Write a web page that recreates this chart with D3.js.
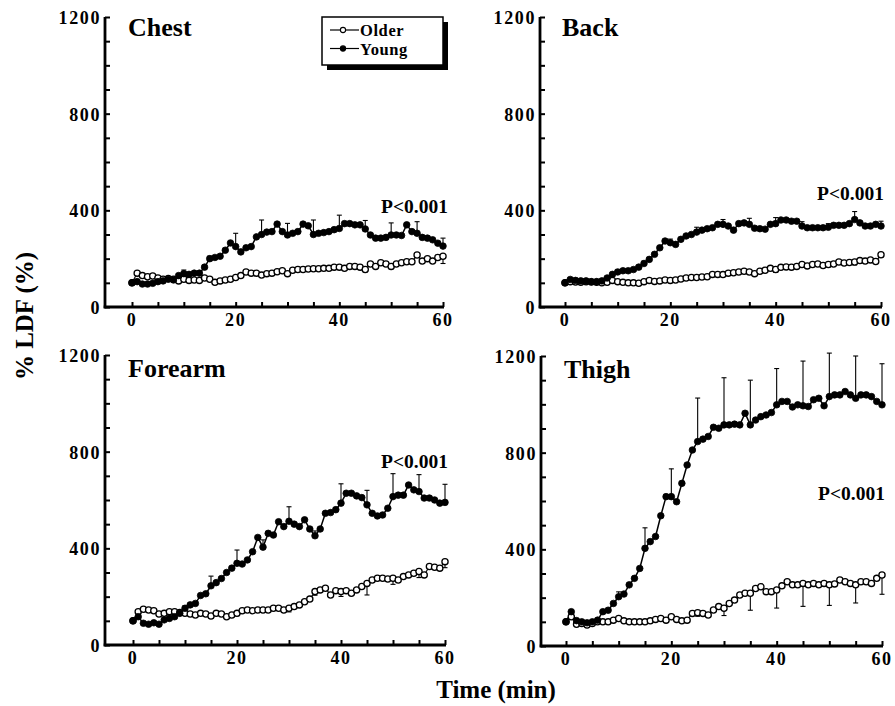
<!DOCTYPE html>
<html><head><meta charset="utf-8">
<script src="https://cdn.jsdelivr.net/npm/d3@7"></script>
<style>
html,body{margin:0;padding:0;background:#fff;}
svg{display:block;}
text{font-family:"Liberation Serif","Times New Roman",serif;font-weight:bold;fill:#000;}
</style></head>
<body>
<svg id="chart" width="895" height="706"></svg>
<script>
// ---------- data ----------
const timeMin = [0,1,2,3,4,5,6,7,8,9,10,11,12,13,14,15,16,17,18,19,20,21,22,23,24,25,26,27,28,29,30,
  31,32,33,34,35,36,37,38,39,40,41,42,43,44,45,46,47,48,49,50,51,52,53,54,55,56,57,58,59,60];
const errTime = [0,5,10,15,20,25,30,35,40,45,50,55,60];
const seriesNames = ["Older","Young"];
const panelNames = ["Chest","Back","Forearm","Thigh"];
const pLabel = "P<0.001";
const yTickValues = [0,400,800,1200];
const xTickValues = [0,20,40,60];

const chestYoung = [100,105,95,95,98,105,108,115,112,130,138,135,140,140,165,200,205,210,235,265,250,228,245,250,290,300,310,312,343,312,298,305,312,343,336,300,305,308,312,320,325,345,345,340,340,323,298,285,285,288,298,298,296,340,312,305,288,285,278,264,252];
const chestOlder = [100,140,130,125,128,120,115,118,115,108,115,110,112,110,120,115,102,108,112,115,122,130,145,140,140,132,138,140,146,150,138,152,155,155,157,158,158,160,160,165,165,160,168,168,165,155,178,168,183,178,168,178,183,187,187,215,190,200,190,205,210];
const chestYoungSE = [0,5,15,10,55,60,48,60,55,35,50,48,33];
const chestOlderSE = [0,5,8,8,8,8,8,8,8,10,10,10,30];

const backYoung = [100,114,110,108,108,105,105,108,120,135,145,150,150,155,165,180,197,218,245,273,266,259,280,294,300,310,318,324,328,342,342,335,318,345,348,342,326,324,322,342,345,360,360,355,355,335,328,328,328,328,330,338,338,338,345,362,348,335,335,342,335];
const backOlder = [100,105,103,102,104,103,102,100,102,110,105,102,100,100,98,105,110,106,108,112,110,112,116,120,122,122,124,125,135,135,134,140,142,145,148,145,138,148,152,160,155,164,166,165,168,176,170,176,178,172,176,178,186,182,184,186,192,190,195,188,216];
const backYoungSE = [0,5,8,10,15,20,20,25,25,18,15,33,20];
const backOlderSE = [0,5,5,5,5,5,8,10,12,12,10,12,10];

const forearmYoung = [100,117,90,86,92,86,104,110,117,131,152,166,172,205,212,245,258,275,300,318,338,335,352,386,445,405,462,455,510,490,512,500,490,518,480,452,480,545,548,560,587,628,628,617,610,580,545,534,538,566,614,620,620,662,642,635,608,608,600,587,590];
const forearmOlder = [100,138,148,145,142,128,131,138,138,134,131,128,124,131,128,120,131,128,117,124,131,142,145,142,145,145,145,152,152,145,152,159,166,179,190,221,228,235,207,225,221,225,214,228,242,255,269,276,276,273,276,269,283,290,297,304,290,325,322,318,345];
const forearmYoungSE = [0,5,10,40,55,30,60,20,80,60,95,70,75];
const forearmOlderSE = [0,5,5,10,10,10,15,15,20,48,25,25,25];

const thighYoung = [100,142,105,100,96,100,107,142,148,176,204,215,253,280,321,404,432,453,539,618,618,597,673,749,811,846,856,867,905,901,915,915,918,915,963,915,935,949,956,966,998,1012,1012,989,998,994,991,1019,1025,994,1032,1039,1039,1053,1039,1025,1039,1039,1032,1012,998];
const thighOlder = [100,121,90,93,87,93,100,100,100,107,114,104,100,100,100,100,104,110,114,107,121,110,104,107,135,138,135,128,149,163,156,176,190,211,218,218,238,245,225,225,232,249,266,253,253,259,253,259,253,259,253,257,273,266,259,253,266,266,259,280,294];
const thighYoungSE = [0,5,20,85,115,180,195,185,150,185,180,175,170];
const thighOlderSE = [0,5,5,5,5,15,30,70,75,95,85,75,80];

// ---------- layout ----------
const svg = d3.select("#chart");
const layout = [
  {young:chestYoung, older:chestOlder, ySE:chestYoungSE, oSE:chestOlderSE, axisX:105, x0:132, x1:443, yTop:17, yBot:307, titleX:128, titleY:36, pX:448, pY:213},
  {young:backYoung, older:backOlder, ySE:backYoungSE, oSE:backOlderSE, axisX:540, x0:565, x1:881, yTop:17, yBot:307, titleX:562, titleY:36, pX:884, pY:200},
  {young:forearmYoung, older:forearmOlder, ySE:forearmYoungSE, oSE:forearmOlderSE, axisX:105, x0:133, x1:445, yTop:355, yBot:645, titleX:128, titleY:377, pX:448, pY:468},
  {young:thighYoung, older:thighOlder, ySE:thighYoungSE, oSE:thighOlderSE, axisX:541, x0:566, x1:882, yTop:356, yBot:646, titleX:564, titleY:378, pX:885, pY:500}
];

layout.forEach((p, i) => {
  const x = d3.scaleLinear().domain([0,60]).range([p.x0, p.x1]);
  const y = d3.scaleLinear().domain([0,1200]).range([p.yBot, p.yTop]);
  const g = svg.append("g");

  // axes lines
  g.append("line").attr("x1", p.axisX).attr("x2", p.axisX).attr("y1", p.yTop).attr("y2", p.yBot+1.3)
    .attr("stroke","#000").attr("stroke-width",2.8);
  g.append("line").attr("x1", p.axisX-1.3).attr("x2", p.x1+1).attr("y1", p.yBot).attr("y2", p.yBot)
    .attr("stroke","#000").attr("stroke-width",2.8);

  // y ticks (inward) every 100
  const yAxis = d3.axisRight(y).tickValues(d3.range(0,1201,100)).tickSize(5).tickFormat("");
  const ya = g.append("g").attr("transform",`translate(${p.axisX},0)`).call(yAxis);
  ya.select(".domain").remove();
  ya.selectAll("line").attr("stroke","#000").attr("stroke-width",2);
  // y labels
  g.selectAll(".ylab").data(yTickValues).enter().append("text")
    .attr("x", p.axisX-4).attr("y", d => y(d)+7)
    .attr("text-anchor","end").attr("font-size",18).attr("letter-spacing",1.6)
    .text(d => d);

  // x ticks (inward) every 5
  const xAxis = d3.axisTop(x).tickValues(d3.range(0,61,5)).tickSize(5).tickFormat("");
  const xa = g.append("g").attr("transform",`translate(0,${p.yBot})`).call(xAxis);
  xa.select(".domain").remove();
  xa.selectAll("line").attr("stroke","#000").attr("stroke-width",2);
  g.selectAll(".xlab").data(xTickValues).enter().append("text")
    .attr("x", d => x(d)).attr("y", p.yBot+19)
    .attr("text-anchor","middle").attr("font-size",18).attr("letter-spacing",1.6)
    .text(d => d);

  // title and p label
  g.append("text").attr("x",p.titleX).attr("y",p.titleY).attr("font-size",26).text(panelNames[i]);
  g.append("text").attr("x",p.pX).attr("y",p.pY).attr("text-anchor","end").attr("font-size",19.5).text(pLabel);

  const line = d3.line().x((d,j) => x(timeMin[j])).y(d => y(d));

  // lines
  g.append("path").datum(p.older).attr("d",line).attr("fill","none").attr("stroke","#000").attr("stroke-width",1.1);
  g.append("path").datum(p.young).attr("d",line).attr("fill","none").attr("stroke","#000").attr("stroke-width",1.5);

  // error bars
  const errs = [];
  errTime.forEach((t,k) => {
    const idx = timeMin.indexOf(t);
    if (p.ySE[k] > 0) errs.push({t, from:p.young[idx], to:p.young[idx]+p.ySE[k]});
    if (p.oSE[k] > 0) errs.push({t, from:p.older[idx], to:p.older[idx]-p.oSE[k]});
  });
  const eg = g.append("g").attr("stroke","#000").attr("stroke-width",1.1);
  eg.selectAll(".ev").data(errs).enter().append("line")
    .attr("x1",d=>x(d.t)).attr("x2",d=>x(d.t)).attr("y1",d=>y(d.from)).attr("y2",d=>y(d.to));
  eg.selectAll(".ec").data(errs).enter().append("line")
    .attr("x1",d=>x(d.t)-2.5).attr("x2",d=>x(d.t)+2.5).attr("y1",d=>y(d.to)).attr("y2",d=>y(d.to));

  // markers
  g.selectAll(".mo").data(p.older).enter().append("circle")
    .attr("cx",(d,j)=>x(timeMin[j])).attr("cy",d=>y(d)).attr("r",3.1)
    .attr("fill","#fff").attr("stroke","#000").attr("stroke-width",1.3);
  g.selectAll(".my").data(p.young).enter().append("circle")
    .attr("cx",(d,j)=>x(timeMin[j])).attr("cy",d=>y(d)).attr("r",3.3)
    .attr("fill","#000").attr("stroke","#000").attr("stroke-width",0.8);
});

// axis titles
svg.append("text").attr("transform","translate(33,316) rotate(-90)").attr("text-anchor","middle")
  .attr("font-size",25).text("% LDF (%)");
svg.append("text").attr("x",496).attr("y",698).attr("text-anchor","middle").attr("font-size",25).text("Time (min)");

// legend
const lg = svg.append("g");
lg.append("rect").attr("x",327).attr("y",22).attr("width",121).attr("height",48).attr("fill","#000");
lg.append("rect").attr("x",322).attr("y",17).attr("width",121).attr("height",48).attr("fill","#fff").attr("stroke","#000").attr("stroke-width",1.5);
const legRows = [{name:seriesNames[0], y:30, fill:"#fff"},{name:seriesNames[1], y:48.5, fill:"#000"}];
legRows.forEach(r => {
  lg.append("line").attr("x1",330).attr("x2",359).attr("y1",r.y).attr("y2",r.y).attr("stroke","#000").attr("stroke-width",1.2);
  lg.append("circle").attr("cx",343).attr("cy",r.y).attr("r",2.6).attr("fill",r.fill).attr("stroke","#000").attr("stroke-width",1.1);
  lg.append("text").attr("x",360).attr("y",r.y+6).attr("font-size",16.5).attr("letter-spacing",0.6).text(r.name);
});
</script>
</body></html>
